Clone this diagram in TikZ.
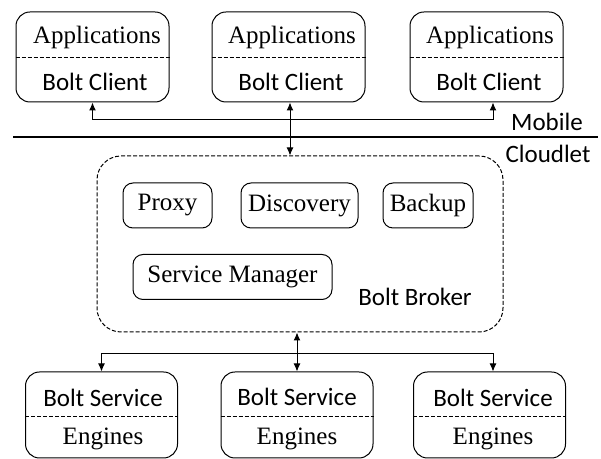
\documentclass[tikz,border=0pt]{standalone}
\usepackage{fontspec}
\setmainfont{Liberation Serif}
\newfontfamily\calibri{Carlito}
\usetikzlibrary{arrows.meta}

\tikzset{
	unit/.style={draw, rounded corners=7pt, line width=0.5pt, minimum width=76.5pt, minimum height=45pt, inner sep=0pt},
	part/.style={draw, rounded corners=5pt, line width=0.5pt, minimum height=22.5pt, inner sep=0pt, font=\fontsize{12.5pt}{15pt}\selectfont},
	serif/.style={inner sep=0pt, font=\fontsize{12.5pt}{15pt}\selectfont},
	sans/.style={inner sep=0pt, font=\calibri\fontsize{12.5pt}{15pt}\selectfont},
	divider/.style={dashed, line width=0.4pt, dash pattern=on 2pt off 1pt},
	link/.style={line width=0.5pt, -{Latex[length=4pt,width=3.5pt]}},
	duplex/.style={line width=0.5pt, {Latex[length=4pt,width=3.5pt]}-{Latex[length=4pt,width=3.5pt]}}
}

\begin{document}
\begin{tikzpicture}[x=0.5pt,y=-0.5pt]
	\useasboundingbox (0,0) rectangle (601,459);

	% mobile side
	\node[unit] (app1) at (92.5,57) {};
	\node[unit] (app2) at (288.5,57) {};
	\node[unit] (app3) at (486.5,57) {};
	\draw[divider] (app1.west) -- (app1.east);
	\draw[divider] (app2.west) -- (app2.east);
	\draw[divider] (app3.west) -- (app3.east);
	\node[serif] (apps1) at (97,37) {Applications};
	\node[serif] (apps2) at (292,37) {Applications};
	\node[serif] (apps3) at (490,37) {Applications};
	\node[sans] (client1) at (95,82) {Bolt Client};
	\node[sans] (client2) at (291,82) {Bolt Client};
	\node[sans] (client3) at (489,82) {Bolt Client};

	\draw[line width=1pt] (13,137) -- (598,137);
	\node[sans] (mobile) at (547,122) {Mobile};
	\node[sans] (cloudlet) at (548,154) {Cloudlet};

	% cloudlet side
	\node[draw, dashed, dash pattern=on 2pt off 1pt, line width=0.5pt, rounded corners=12pt,
		minimum width=203pt, minimum height=88pt] (broker) at (300,244) {};
	\node[part, minimum width=44.5pt] (proxy) at (167.5,205.5) {Proxy};
	\node[part, minimum width=58.5pt] (discovery) at (299.5,205.5) {Discovery};
	\node[part, minimum width=45pt] (backup) at (428,205.5) {Backup};
	\node[part, minimum width=99.5pt] (manager) at (232.5,277) {Service Manager};
	\node[sans] (brokername) at (415,297) {Bolt Broker};

	\node[unit, minimum width=76pt, minimum height=43pt] (srv1) at (101.5,415) {};
	\node[unit, minimum width=76pt, minimum height=43pt] (srv2) at (297,415) {};
	\node[unit, minimum width=76pt, minimum height=43pt] (srv3) at (489.5,415) {};
	\draw[divider] (srv1.west |- 0,416) -- (srv1.east |- 0,416);
	\draw[divider] (srv2.west |- 0,416) -- (srv2.east |- 0,416);
	\draw[divider] (srv3.west |- 0,416) -- (srv3.east |- 0,416);
	\node[sans] (bolt1) at (103,398) {Bolt Service};
	\node[sans] (bolt2) at (297,397) {Bolt Service};
	\node[sans] (bolt3) at (493,398) {Bolt Service};
	\node[serif] (eng1) at (103,439) {Engines};
	\node[serif] (eng2) at (297,439) {Engines};
	\node[serif] (eng3) at (493,439) {Engines};

	% connectors
	\coordinate (mjoin) at (290,120);
	\coordinate (sjoin) at (297,354);
	\draw[link] (mjoin) -| (app1.south);
	\draw[link] (mjoin) -| ([xshift=3.25pt]app3.south);
	\draw[duplex] ([xshift=0.75pt]app2.south) -- ([xshift=0.75pt]app2.south |- broker.north);
	\draw[link] (sjoin) -| (srv1.north);
	\draw[link] (sjoin) -| ([xshift=1.75pt]srv3.north);
	\draw[duplex] (broker.south -| srv2.north) -- (srv2.north);
\end{tikzpicture}
\end{document}
